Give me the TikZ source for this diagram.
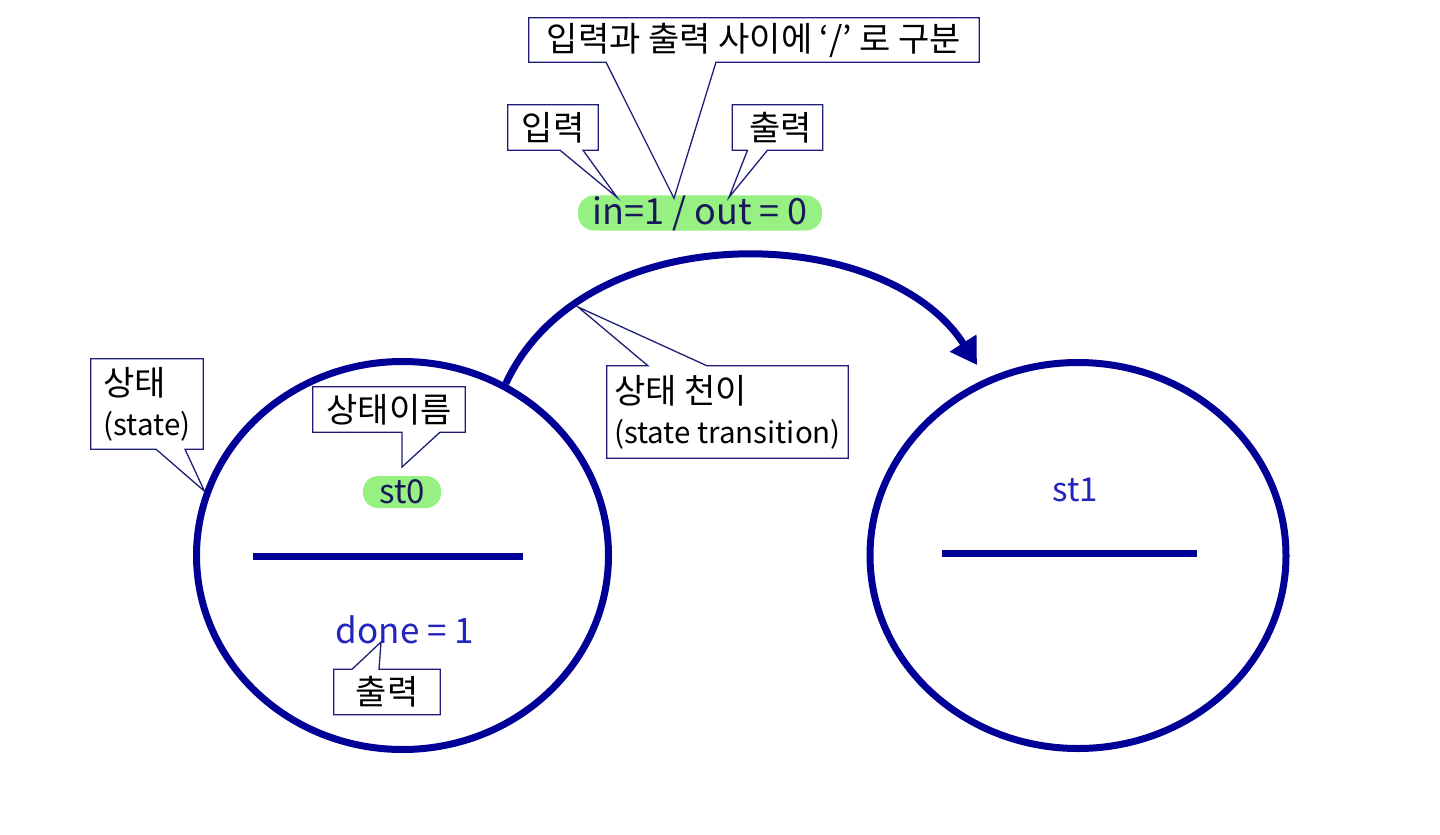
\documentclass[tikz,border=0pt]{standalone}
\usepackage{fontspec}
\setmainfont{Noto Sans CJK KR}
\usetikzlibrary{shapes.geometric,arrows.meta,positioning}

\definecolor{statenavy}{RGB}{0,0,150}
\definecolor{textblue}{RGB}{35,35,190}
\definecolor{pillgreen}{RGB}{150,240,130}
\definecolor{inknavy}{RGB}{25,25,90}
\definecolor{calloutline}{RGB}{30,30,120}

\newcommand{\notefont}{\fontsize{34}{40}\selectfont}
\newcommand{\latinfont}{\fontsize{29.5}{40}\selectfont}
\newcommand{\pillfont}{\fontsize{33}{36}\selectfont}

\begin{document}
\begin{tikzpicture}[x=1pt, y=-1pt,
    statenode/.style={ellipse, draw=statenavy, line width=7pt, inner sep=0pt},
    divider/.style={draw=statenavy, line width=7pt},
    note/.style={rectangle, inner sep=0pt, font=\notefont, align=left},
    noteline/.style={draw=calloutline, line width=1.3pt, line join=miter},
    pill/.style={rectangle, rounded corners=16pt, fill=pillgreen, inner sep=0pt, text=inknavy, font=\pillfont},
    transition/.style={draw=statenavy, line width=7pt, -{Triangle[length=26pt, width=30pt]}}
]
\useasboundingbox[fill=white] (0,0) rectangle (1440,835);

% states
\node[statenode, minimum width=412pt, minimum height=388pt] (st0) at (402.5,555.5) {};
\node[statenode, minimum width=416pt, minimum height=386pt] (st1) at (1078,555.5) {};
\draw[divider] (253,556) -- (523,556);
\draw[divider] (942,553) -- (1197,553);

% state names and outputs
\node[pill, minimum width=78pt, minimum height=32pt, rounded corners=15pt] (st0name) at (402,492) {st0};
\node[text=textblue, font=\pillfont] (st1name) at (1075,490) {st1};
\node[text=textblue, font=\fontsize{35}{38}\selectfont] (st0out) at (405,630) {done = 1};

% transition st0 -> st1
\coordinate (arrowtip) at (977,365);
\draw[transition] (st0.59) .. controls (584,214) and (885,221) .. (arrowtip);
\node[pill, minimum width=244pt, minimum height=35pt, font=\fontsize{36}{38}\selectfont] (trlabel) at (700,213) {in=1 / out = 0};

% callouts
\node[note, minimum width=450pt, minimum height=44pt] (ionote) at (754,40) {입력과 출력 사이에 ‘/’ 로 구분};
\draw[noteline] (ionote.south west) -- (ionote.north west) -- (ionote.north east) -- (ionote.south east)
    -- ([xshift=-38pt]ionote.south) -- ([xshift=-26pt,yshift=-3pt]trlabel.north) -- ([xshift=-148pt]ionote.south) -- cycle;

\node[note, minimum width=90pt, minimum height=45pt] (innote) at (553,127.5) {입력};
\draw[noteline] (innote.south west) -- (innote.north west) -- (innote.north east) -- (innote.south east)
    -- ([xshift=30pt]innote.south) -- ([xshift=-83pt,yshift=-2pt]trlabel.north) -- ([xshift=7pt]innote.south) -- cycle;

\node[note, minimum width=90pt, minimum height=45pt] (outnote) at (777.5,127.5) {\hspace{6pt}출력};
\draw[noteline] (outnote.south west) -- (outnote.north west) -- (outnote.north east) -- (outnote.south east)
    -- ([xshift=-10pt]outnote.south) -- ([xshift=29pt,yshift=-2pt]trlabel.north) -- ([xshift=-30pt]outnote.south) -- cycle;

\node[note, minimum width=112pt, minimum height=90pt] (statenote) at (147,404) {상태\\\latinfont(state)};
\draw[noteline] (statenote.south west) -- (statenote.north west) -- (statenote.north east) -- (statenote.south east)
    -- ([xshift=38pt]statenote.south) -- (st0.162) -- ([xshift=9pt]statenote.south) -- cycle;

\coordinate (nametip) at (402,467);
\node[note, minimum width=152pt, minimum height=45pt] (namenote) at (389,409.5) {상태이름};
\draw[noteline] (namenote.south west) -- (namenote.north west) -- (namenote.north east) -- (namenote.south east)
    -- ([xshift=51pt]namenote.south) -- (nametip) -- ([xshift=13pt]namenote.south) -- cycle;

\coordinate (trtip) at (578,307);
\node[note, minimum width=241pt, minimum height=92pt] (trnote) at (727.5,412) {상태 천이\\\latinfont(state transition)};
\draw[noteline] (trnote.north east) -- (trnote.south east) -- (trnote.south west) -- (trnote.north west)
    -- ([xshift=-79.5pt]trnote.north) -- (trtip) -- ([xshift=-20.5pt]trnote.north) -- cycle;

\coordinate (outtip) at (381,642);
\node[note, minimum width=106pt, minimum height=45pt] (donenote) at (387,692) {출력};
\draw[noteline] (donenote.north east) -- (donenote.south east) -- (donenote.south west) -- (donenote.north west)
    -- ([xshift=-35pt]donenote.north) -- (outtip) -- ([xshift=-8pt]donenote.north) -- cycle;

\end{tikzpicture}
\end{document}
